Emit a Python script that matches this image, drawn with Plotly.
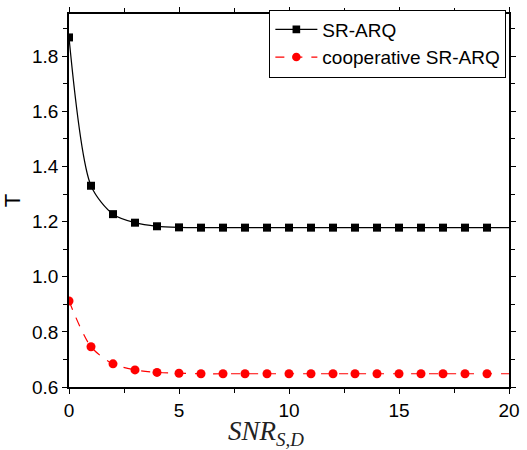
import plotly.graph_objects as go

snr = list(range(0, 21))
t_sr_arq = [1.868, 1.330, 1.227, 1.196, 1.183, 1.179, 1.178, 1.178, 1.178, 1.178,
            1.178, 1.178, 1.178, 1.178, 1.178, 1.178, 1.178, 1.178, 1.178, 1.178, 1.178]
t_coop = [0.912, 0.746, 0.684, 0.662, 0.653, 0.650, 0.648, 0.648, 0.648, 0.648,
          0.648, 0.648, 0.648, 0.648, 0.648, 0.648, 0.648, 0.648, 0.648, 0.648, 0.648]
# markers are drawn at SNR 0..19; the fitted curve continues to 20
marker_last = 19

sizes_sq = [8 if x <= marker_last else 0 for x in snr]
sizes_ci = [9 if x <= marker_last else 0 for x in snr]

fig = go.Figure()
fig.add_trace(go.Scatter(
    x=snr, y=t_sr_arq, mode="lines+markers", name="SR-ARQ",
    line=dict(color="black", width=1.2, shape="spline", smoothing=0.8),
    marker=dict(symbol="square", color="black", size=sizes_sq, opacity=1, line=dict(width=0)),
))
fig.add_trace(go.Scatter(
    x=snr, y=t_coop, mode="lines+markers", name="cooperative SR-ARQ",
    line=dict(color="red", width=1.2, dash="dash", shape="spline", smoothing=0.8),
    marker=dict(symbol="circle", color="red", size=sizes_ci, opacity=1, line=dict(width=0)),
))

axis_common = dict(
    showline=True, linecolor="black", linewidth=1.5, mirror="allticks",
    ticks="outside", ticklen=5, tickwidth=1, tickcolor="black",
    showgrid=False, zeroline=False,
    tickfont=dict(family="Liberation Sans, Arial", size=19, color="black"),
)

fig.update_xaxes(range=[0, 20], tickvals=[0, 5, 10, 15, 20],
                 minor=dict(ticks="outside", ticklen=4, dtick=2.5, tick0=0, tickcolor="black"),
                 **axis_common)
fig.update_yaxes(range=[0.6, 1.953], tickvals=[0.6, 0.8, 1.0, 1.2, 1.4, 1.6, 1.8],
                 ticktext=["0.6", "0.8", "1.0", "1.2", "1.4", "1.6", "1.8"],
                 minor=dict(ticks="outside", ticklen=4, dtick=0.1, tick0=0.6, tickcolor="black"),
                 title=dict(text="T", font=dict(family="Liberation Sans, Arial", size=22, color="black"), standoff=10),
                 **axis_common)

fig.add_annotation(
    text="<i>SNR</i><sub><i>S,D</i></sub>", xref="paper", yref="paper",
    x=0.447, y=0, yshift=-46, showarrow=False, xanchor="center", yanchor="middle",
    font=dict(family="Liberation Serif, Times New Roman", size=27, color="#222"),
)

fig.update_layout(
    width=527, height=450,
    margin=dict(l=68, r=16, t=7, b=63),
    plot_bgcolor="white", paper_bgcolor="white",
    showlegend=True,
    legend=dict(x=0.994, y=1.012, xanchor="right", yanchor="top",
                bgcolor="white", bordercolor="black", borderwidth=1,
                font=dict(family="Liberation Sans, Arial", size=19, color="black"),
                tracegroupgap=0, itemwidth=42),
)

fig.write_html("out.html", config={"displayModeBar": False},
               post_script="document.body.style.margin='0';document.body.style.padding='0';")
